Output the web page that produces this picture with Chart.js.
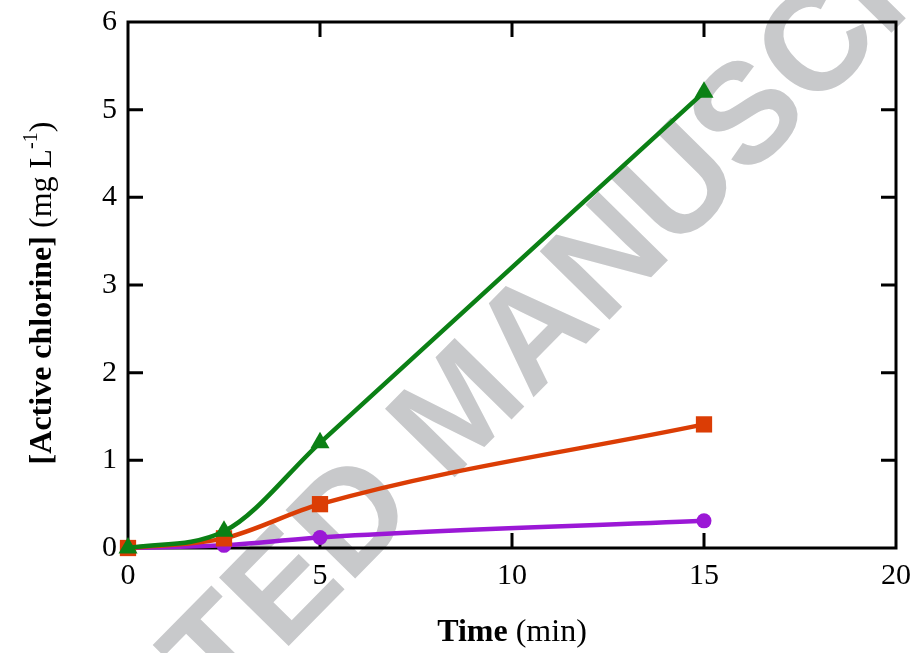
<!DOCTYPE html>
<html>
<head>
<meta charset="utf-8">
<script src="https://cdn.jsdelivr.net/npm/chart.js@4"></script>
<style>
  body { margin: 0; background: #fff; }
</style>
</head>
<body>
<canvas id="chart" width="917" height="653"></canvas>
<script>
const times = [0, 2.5, 5, 15];
const greenVals = [0, 0.19, 1.2, 5.2];
const redVals = [0, 0.11, 0.5, 1.41];
const purpleVals = [0, 0.03, 0.12, 0.31];
const xTicks = [0, 5, 10, 15, 20];
const yTicks = [0, 1, 2, 3, 4, 5, 6];

const serif = '"Liberation Serif", "Times New Roman", serif';

function pts(vals) {
    return times.map(function (t, i) { return { x: t, y: vals[i] }; });
}

// grey diagonal watermark, under everything
const watermark = {
    id: 'watermark',
    beforeDraw: function (chart) {
        const c = chart.ctx;
        c.save();
        c.font = 'bold 142px "Liberation Sans", Arial, sans-serif';
        c.fillStyle = '#c8c9cb';
        c.textBaseline = 'alphabetic';
        const lead = c.measureText('ACCEPTED ').width;
        c.translate(448, 484);
        c.rotate(-45.5 * Math.PI / 180);
        c.fillText('ACCEPTED MANUSCRIPT', -lead, 0);
        c.restore();
    }
};

// box frame with inward ticks on all four sides
const frame = {
    id: 'frame',
    beforeDatasetsDraw: function (chart) {
        const c = chart.ctx;
        const a = chart.chartArea;
        const xs = chart.scales.x;
        const ys = chart.scales.y;
        const len = 15;
        c.save();
        c.strokeStyle = '#000';
        c.lineWidth = 3;
        c.strokeRect(a.left, a.top, a.right - a.left, a.bottom - a.top);
        c.beginPath();
        xTicks.slice(1, -1).forEach(function (v) {
            const px = xs.getPixelForValue(v);
            c.moveTo(px, a.bottom); c.lineTo(px, a.bottom - len);
            c.moveTo(px, a.top); c.lineTo(px, a.top + len);
        });
        yTicks.slice(1, -1).forEach(function (v) {
            const py = ys.getPixelForValue(v);
            c.moveTo(a.left, py); c.lineTo(a.left + len, py);
            c.moveTo(a.right, py); c.lineTo(a.right - len, py);
        });
        c.stroke();
        c.restore();
    },
    afterDraw: function (chart) {
        const c = chart.ctx;
        const a = chart.chartArea;
        const fs = 32;
        c.save();
        c.fillStyle = '#000';
        // x title: bold "Time" + normal " (min)"
        c.textBaseline = 'alphabetic';
        c.font = 'bold ' + fs + 'px ' + serif;
        const w1 = c.measureText('Time').width;
        c.font = fs + 'px ' + serif;
        const w2 = c.measureText(' (min)').width;
        let x0 = (a.left + a.right) / 2 - (w1 + w2) / 2;
        c.font = 'bold ' + fs + 'px ' + serif;
        c.fillText('Time', x0, 641);
        c.font = fs + 'px ' + serif;
        c.fillText(' (min)', x0 + w1, 641);

        // y title, rotated
        c.translate(51, (a.top + a.bottom) / 2 + 8);
        c.rotate(-Math.PI / 2);
        c.font = 'bold ' + fs + 'px ' + serif;
        const p1 = '[Active chlorine]';
        const b1 = c.measureText(p1).width;
        c.font = fs + 'px ' + serif;
        const p2 = ' (mg L';
        const b2 = c.measureText(p2).width;
        c.font = '20px ' + serif;
        const b3 = c.measureText('-1').width;
        c.font = fs + 'px ' + serif;
        const b4 = c.measureText(')').width;
        let s = -(b1 + b2 + b3 + b4) / 2;
        c.font = 'bold ' + fs + 'px ' + serif;
        c.fillText(p1, s, 0); s += b1;
        c.font = fs + 'px ' + serif;
        c.fillText(p2, s, 0); s += b2;
        c.font = '20px ' + serif;
        c.fillText('-1', s, -14); s += b3;
        c.font = fs + 'px ' + serif;
        c.fillText(')', s, 0);
        c.restore();
    }
};

function series(vals, color, style, radius) {
    return {
        data: pts(vals),
        borderColor: color,
        backgroundColor: color,
        borderWidth: 4.5,
        pointStyle: style,
        pointRadius: radius,
        pointBorderWidth: 0,
        cubicInterpolationMode: 'monotone',
        clip: false
    };
}

new Chart(document.getElementById('chart'), {
    type: 'line',
    data: {
        datasets: [
            series(greenVals, '#0b8015', 'triangle', 11),
            series(redVals, '#db3d05', 'rect', 11.5),
            series(purpleVals, '#9b18d6', 'circle', 7.5)
        ]
    },
    options: {
        responsive: false,
        animation: false,
        layout: { padding: { top: 22, right: 21, left: 0, bottom: 0 } },
        plugins: { legend: { display: false }, tooltip: { enabled: false } },
        scales: {
            x: {
                type: 'linear',
                min: 0,
                max: 20,
                grid: { display: false, drawTicks: false },
                border: { display: false },
                afterBuildTicks: function (scale) {
                    scale.ticks = xTicks.map(function (v) { return { value: v }; });
                },
                afterFit: function (scale) {
                    scale.height = 105;
                    scale.paddingLeft = 0;
                    scale.paddingRight = 0;
                },
                ticks: {
                    color: '#000',
                    padding: 10,
                    maxRotation: 0,
                    font: { family: serif, size: 30 }
                }
            },
            y: {
                min: 0,
                max: 6,
                grid: { display: false, drawTicks: false },
                border: { display: false },
                afterBuildTicks: function (scale) {
                    scale.ticks = yTicks.map(function (v) { return { value: v }; });
                },
                afterFit: function (scale) {
                    scale.width = 128;
                    scale.paddingTop = 0;
                    scale.paddingBottom = 0;
                },
                ticks: {
                    color: '#000',
                    padding: 11,
                    font: { family: serif, size: 30 }
                }
            }
        }
    },
    plugins: [watermark, frame]
});
</script>
</body>
</html>
